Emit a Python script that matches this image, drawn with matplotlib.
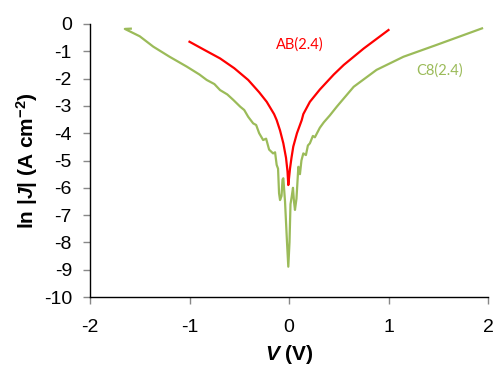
import matplotlib
matplotlib.use("Agg")
import matplotlib.pyplot as plt

# AB(2.4) series
ab_v = [-1.0, -0.85, -0.693, -0.55, -0.41, -0.30, -0.224, -0.15, -0.124, -0.09, -0.057,
        -0.03, -0.015, -0.007, 0.01, 0.025, 0.043, 0.08, 0.128, 0.144, 0.21, 0.31, 0.45,
        0.55, 0.75, 1.0]
ab_lnj = [-0.65, -0.95, -1.26, -1.62, -2.05, -2.50, -2.85, -3.30, -3.52, -3.9, -4.37,
          -4.9, -5.4, -5.90, -5.3, -4.9, -4.49, -4.0, -3.52, -3.3, -2.85, -2.40, -1.85,
          -1.50, -0.90, -0.22]

# C8(2.4) series
c8_v = [-1.59, -1.65, -1.50, -1.364, -1.20, -1.028, -0.90, -0.827, -0.75, -0.693, -0.62,
        -0.56, -0.49, -0.45, -0.41, -0.36, -0.33, -0.30, -0.26, -0.23, -0.20, -0.16,
        -0.14, -0.124, -0.11, -0.10, -0.09, -0.075, -0.065, -0.057, -0.04, -0.02, -0.007,
        0.005, 0.015, 0.027, 0.04, 0.05, 0.06, 0.075, 0.094, 0.11, 0.125, 0.144, 0.17,
        0.19, 0.21, 0.24, 0.26, 0.31, 0.35, 0.41, 0.48, 0.51, 0.65, 0.88, 1.15, 1.48, 1.94]
c8_lnj = [-0.17, -0.18, -0.45, -0.83, -1.20, -1.56, -1.85, -2.05, -2.20, -2.42, -2.58,
          -2.78, -3.03, -3.15, -3.40, -3.64, -3.70, -4.00, -4.25, -4.20, -4.60, -4.74,
          -4.70, -5.16, -5.30, -6.2, -6.45, -6.3, -5.7, -5.65, -6.5, -8.0, -8.89,
          -8.0, -6.6, -6.33, -6.0, -6.5, -6.81, -6.4, -5.23, -5.5, -5.0, -4.74, -4.8,
          -4.45, -4.37, -4.10, -4.15, -3.80, -3.60, -3.35, -3.03, -2.9, -2.30, -1.68,
          -1.20, -0.77, -0.16]

x_ticks = [-2, -1, 0, 1, 2]
y_ticks = [0, -1, -2, -3, -4, -5, -6, -7, -8, -9, -10]

plt.rcParams['font.family'] = ['Liberation Sans', 'DejaVu Sans']
plt.rcParams['mathtext.fontset'] = 'custom'
plt.rcParams['mathtext.it'] = 'Liberation Sans:italic:bold'
plt.rcParams['mathtext.bf'] = 'Liberation Sans:bold'
plt.rcParams['mathtext.rm'] = 'Liberation Sans:bold'

fig = plt.figure(figsize=(4.93, 3.67), dpi=100)
ax = fig.add_axes([90/493, 1-297/367, (488-90)/493, (297-24)/367])

red = '#FF0000'
green = '#9BBB59'
ax.plot(ab_v, ab_lnj, color=red, lw=1.6, solid_joinstyle='round')
ax.plot(c8_v, c8_lnj, color=green, lw=1.6, solid_joinstyle='round')

ax.set_xlim(-2, 2)
ax.set_ylim(-10, 0)
ax.set_xticks(x_ticks)
ax.set_yticks(y_ticks)
ax.set_xticklabels([str(t) for t in x_ticks])
ax.set_yticklabels([str(t) for t in y_ticks])
ax.tick_params(direction='out', length=5, width=1, color='#888888', labelsize=14)
ax.tick_params(axis='x', pad=11)
ax.tick_params(axis='y', pad=8)

for s in ['top', 'right']:
    ax.spines[s].set_visible(False)
for s in ['left', 'bottom']:
    ax.spines[s].set_color('black')
    ax.spines[s].set_linewidth(1)

ax.set_xlabel(r'$\mathit{V}$ (V)', fontsize=15, fontweight='bold', labelpad=5)
ax.set_ylabel(r'ln |$\mathit{J}$| (A cm$^{-2}$)', fontsize=15, fontweight='bold', labelpad=3)

ax.text(0.11, -0.75, 'AB(2.4)', color=red, fontsize=10.5, ha='center', va='center',
        family=['Lato', 'DejaVu Sans'])
ax.text(1.51, -1.72, 'C8(2.4)', color=green, fontsize=10.5, ha='center', va='center',
        family=['Lato', 'DejaVu Sans'])

fig.savefig('out.png', dpi=100)
